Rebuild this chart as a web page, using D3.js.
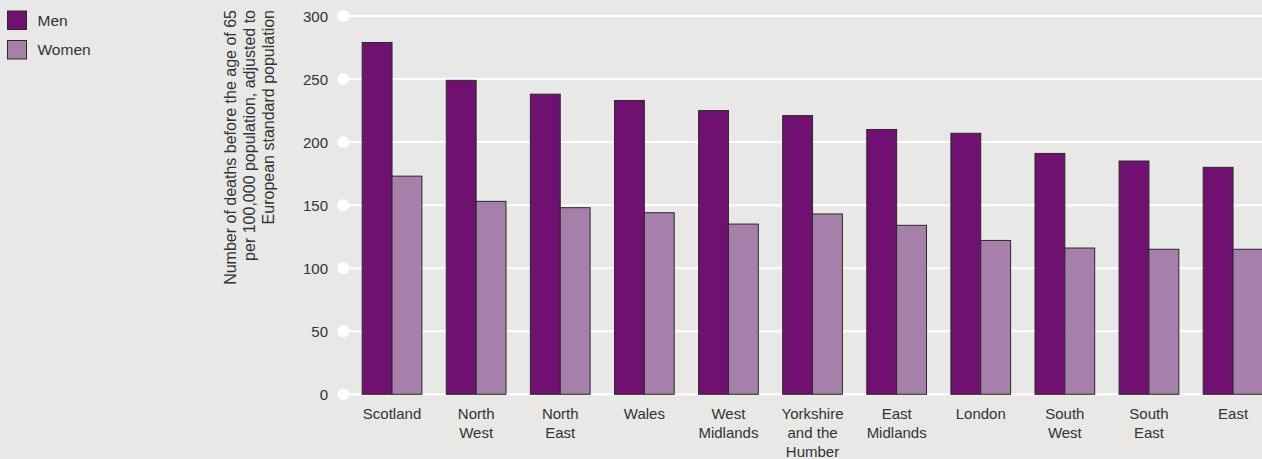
<!DOCTYPE html>
<html>
<head>
<meta charset="utf-8">
<script src="https://cdn.jsdelivr.net/npm/d3@7"></script>
<style>
  html, body { margin: 0; padding: 0; background: #e8e9e6; }
  svg { display: block; font-family: "Liberation Sans", Arial, sans-serif; }
</style>
</head>
<body>
<svg id="chart" width="1262" height="459"></svg>
<script>
const categories = [
  ["Scotland"], ["North", "West"], ["North", "East"], ["Wales"], ["West", "Midlands"],
  ["Yorkshire", "and the", "Humber"], ["East", "Midlands"], ["London"], ["South", "West"],
  ["South", "East"], ["East"]
];
const seriesNames = ["Men", "Women"];
const menValues = [279, 249, 238, 233, 225, 221, 210, 207, 191, 185, 180];
const womenValues = [173, 153, 148, 144, 135, 143, 134, 122, 116, 115, 115];
const yTicks = [0, 50, 100, 150, 200, 250, 300];
const yTitle = ["Number of deaths before the age of 65", "per 100,000 population, adjusted to", "European standard population"];

const colors = { Men: "#701070", Women: "#a67fab" };
const textColor = "#333333";

const svg = d3.select("#chart");
const W = 1262, H = 459;

const keys = categories.map(c => c.join(" "));
const x0 = d3.scaleBand().domain(keys).range([350, 350 + 11 * 84.1]).paddingInner(0.29).paddingOuter(0.145);
const x1 = d3.scaleBand().domain(seriesNames).range([0, x0.bandwidth()]);
const y = d3.scaleLinear().domain([0, 300]).range([394.3, 16]);

// Gridlines
const grid = svg.append("g");
grid.selectAll("line").data(yTicks).join("line")
  .attr("x1", 343.3).attr("x2", W)
  .attr("y1", d => y(d)).attr("y2", d => y(d))
  .attr("stroke", "#ffffff").attr("stroke-width", 2);
grid.selectAll("circle").data(yTicks).join("circle")
  .attr("cx", 343.3).attr("cy", d => y(d)).attr("r", 6).attr("fill", "#ffffff");

// Y axis labels
const yAxis = d3.axisLeft(y).tickValues(yTicks).tickSize(0).tickPadding(0);
const yg = svg.append("g").attr("transform", "translate(328,0.6)").call(yAxis);
yg.select(".domain").remove();
yg.selectAll("text").attr("font-size", 15).attr("fill", textColor)
  .attr("font-family", "Liberation Sans, Arial, sans-serif");

// Bars
const data = keys.map((k, i) => ({ key: k, values: [
  { s: "Men", v: menValues[i] }, { s: "Women", v: womenValues[i] }] }));
const groups = svg.append("g").selectAll("g").data(data).join("g")
  .attr("transform", d => `translate(${x0(d.key)},0)`);
groups.selectAll("rect").data(d => d.values).join("rect")
  .attr("x", d => x1(d.s)).attr("width", x1.bandwidth())
  .attr("y", d => y(d.v)).attr("height", d => y(0) - y(d.v))
  .attr("fill", d => colors[d.s])
  .attr("stroke", "#2a2a2a").attr("stroke-width", 1);

// X labels
const xl = svg.append("g");
categories.forEach((lines, i) => {
  const cx = x0(keys[i]) + x0.bandwidth() / 2;
  const t = xl.append("text").attr("x", cx).attr("y", 419)
    .attr("text-anchor", "middle").attr("font-size", 15).attr("fill", textColor);
  lines.forEach((ln, j) => {
    t.append("tspan").attr("x", cx).attr("dy", j === 0 ? 0 : 19).text(ln);
  });
});

// Y title
const yt = svg.append("text")
  .attr("transform", "rotate(-90)")
  .attr("text-anchor", "end").attr("font-size", 16).attr("fill", textColor);
yTitle.forEach((ln, j) => {
  yt.append("tspan").attr("x", -10).attr("y", 236 + j * 19).text(ln);
});

// Legend
const leg = svg.append("g");
seriesNames.forEach((s, i) => {
  leg.append("rect").attr("x", 7.5).attr("y", 11 + i * 29.5).attr("width", 19).attr("height", 18.5)
    .attr("fill", colors[s]).attr("stroke", "#2a2a2a").attr("stroke-width", 1);
  leg.append("text").attr("x", 37.5).attr("y", 25.5 + i * 29.5).attr("font-size", 15.5)
    .attr("fill", textColor).text(s);
});
</script>
</body>
</html>
